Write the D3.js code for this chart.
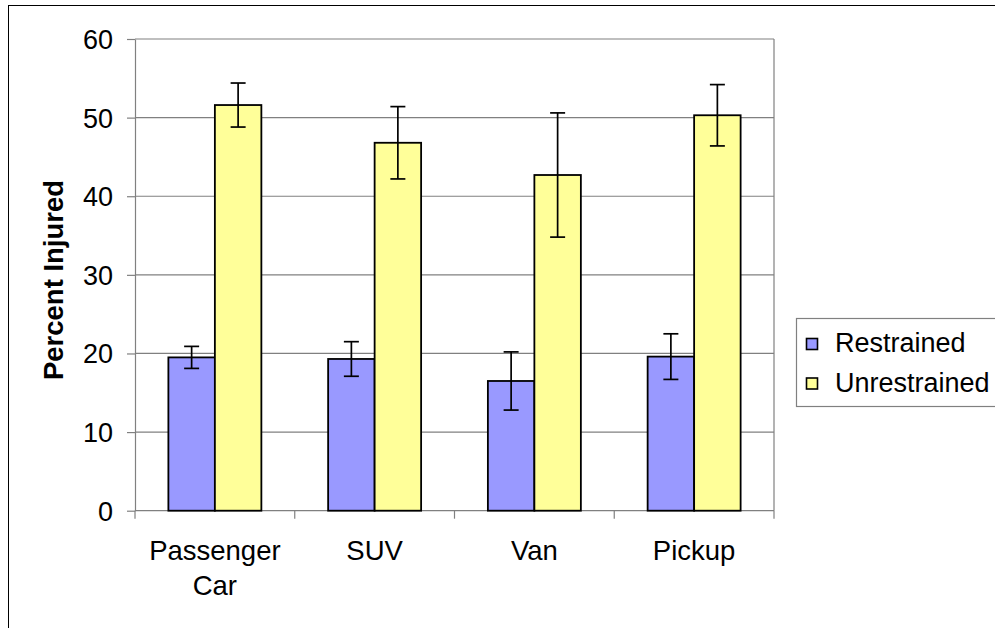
<!DOCTYPE html>
<html>
<head>
<meta charset="utf-8">
<script src="https://cdn.jsdelivr.net/npm/d3@7"></script>
<style>
  html, body { margin: 0; padding: 0; background: #fff; }
  svg { display: block; font-family: "Liberation Sans", Arial, sans-serif; }
</style>
</head>
<body>
<svg id="chart" width="995" height="628"></svg>
<script>
const categories = ["Passenger Car", "SUV", "Van", "Pickup"];
const seriesNames = ["Restrained", "Unrestrained"];
const restrained = [19.5, 19.3, 16.5, 19.6];
const unrestrained = [51.6, 46.8, 42.7, 50.3];
const restrainedErr = [1.4, 2.2, 3.7, 2.9];
const unrestrainedErr = [2.8, 4.6, 7.9, 3.9];
const yTicks = [0, 10, 20, 30, 40, 50, 60];
const colors = ["#9999FF", "#FFFF99"];

const FONT = "'Liberation Sans', Arial, sans-serif";
const svg = d3.select("#chart");
const plotLeft = 135, plotRight = 774, plotTop = 39, plotBottom = 510.7;

// outer chart border
svg.append("rect").attr("x", 8.5).attr("y", 5.5).attr("width", 1100).attr("height", 700)
  .attr("fill", "#fff").attr("stroke", "#000").attr("stroke-width", 1);

const x = d3.scaleBand().domain(categories).range([plotLeft, plotRight]).paddingInner(0).paddingOuter(0);
const xs = d3.scaleBand().domain(seriesNames).range([0, x.bandwidth()]).paddingInner(0).paddingOuter(0.718);
const y = d3.scaleLinear().domain([0, 60]).range([plotBottom, plotTop]);

// gridlines
svg.append("g").selectAll("line").data(yTicks.filter(d => d > 0)).join("line")
  .attr("x1", plotLeft).attr("x2", plotRight)
  .attr("y1", d => y(d)).attr("y2", d => y(d))
  .attr("stroke", "#808080").attr("stroke-width", 1.2);
// right border of plot
svg.append("line").attr("x1", plotRight).attr("x2", plotRight).attr("y1", plotTop).attr("y2", plotBottom)
  .attr("stroke", "#808080").attr("stroke-width", 1.2);

// y axis
const yAxis = d3.axisLeft(y).tickValues(yTicks).tickSize(8).tickPadding(14).tickSizeOuter(0);
const gy = svg.append("g").attr("transform", `translate(${plotLeft},0)`).call(yAxis);
gy.select(".domain").attr("stroke", "#808080").attr("stroke-width", 1.2);
gy.selectAll(".tick line").attr("stroke", "#808080").attr("stroke-width", 1.2);
gy.selectAll(".tick text").attr("font-size", 27).attr("fill", "#000")
  .attr("font-family", FONT).attr("dy", "0.35em");

// x axis line and ticks at category boundaries
svg.append("line").attr("x1", plotLeft).attr("x2", plotRight).attr("y1", plotBottom).attr("y2", plotBottom)
  .attr("stroke", "#808080").attr("stroke-width", 1.2);
const boundaries = categories.map(c => x(c)).concat([plotRight]);
svg.append("g").selectAll("line").data(boundaries).join("line")
  .attr("x1", d => d).attr("x2", d => d).attr("y1", plotBottom).attr("y2", plotBottom + 8)
  .attr("stroke", "#808080").attr("stroke-width", 1.2);

// x labels
const xl = svg.append("g").selectAll("text").data(categories).join("text")
  .attr("x", d => x(d) + x.bandwidth() / 2).attr("y", 560)
  .attr("text-anchor", "middle").attr("font-size", 27.5).attr("font-family", FONT).attr("fill", "#000");
xl.each(function(d) {
  const words = d.split(" ");
  const t = d3.select(this);
  words.forEach((w, i) => {
    t.append("tspan").attr("x", x(d) + x.bandwidth() / 2).attr("dy", i === 0 ? 0 : 35).text(w);
  });
});

// y label
svg.append("text").attr("transform", "translate(63,280) rotate(-90)")
  .attr("text-anchor", "middle").attr("font-size", 27.5).attr("font-weight", "bold")
  .attr("font-family", FONT).attr("fill", "#000").text("Percent Injured");

// bars
const series = [
  { name: seriesNames[0], values: restrained, errs: restrainedErr, color: colors[0] },
  { name: seriesNames[1], values: unrestrained, errs: unrestrainedErr, color: colors[1] }
];
series.forEach(s => {
  const g = svg.append("g");
  g.selectAll("rect").data(categories).join("rect")
    .attr("x", (c) => x(c) + xs(s.name))
    .attr("y", (c, i) => y(s.values[i]))
    .attr("width", xs.bandwidth())
    .attr("height", (c, i) => plotBottom - y(s.values[i]))
    .attr("fill", s.color).attr("stroke", "#000").attr("stroke-width", 1.8);
});
// error bars
series.forEach(s => {
  const g = svg.append("g").attr("stroke", "#000").attr("stroke-width", 1.7);
  categories.forEach((c, i) => {
    const cx = x(c) + xs(s.name) + xs.bandwidth() / 2;
    const hi = y(s.values[i] + s.errs[i]);
    const lo = y(s.values[i] - s.errs[i]);
    g.append("line").attr("x1", cx).attr("x2", cx).attr("y1", hi).attr("y2", lo);
    g.append("line").attr("x1", cx - 7.5).attr("x2", cx + 7.5).attr("y1", hi).attr("y2", hi);
    g.append("line").attr("x1", cx - 7.5).attr("x2", cx + 7.5).attr("y1", lo).attr("y2", lo);
  });
});

// legend
const lg = svg.append("g");
lg.append("rect").attr("x", 796.5).attr("y", 318.5).attr("width", 250).attr("height", 88)
  .attr("fill", "#fff").attr("stroke", "#808080").attr("stroke-width", 1.2);
series.forEach((s, i) => {
  lg.append("rect").attr("x", 806.5).attr("y", 338.5 + i * 39.5).attr("width", 11).attr("height", 11)
    .attr("fill", s.color).attr("stroke", "#000").attr("stroke-width", 1.6);
  lg.append("text").attr("x", 835).attr("y", 351.5 + i * 40).attr("font-size", 27)
    .attr("font-family", FONT).attr("fill", "#000").text(s.name);
});
</script>
</body>
</html>
